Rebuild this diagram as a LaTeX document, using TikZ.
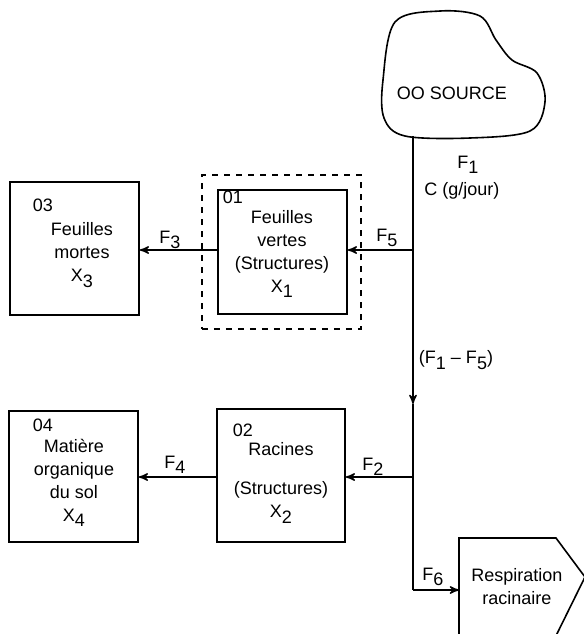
\documentclass[tikz,border=0pt]{standalone}
\usepackage{fontspec}
\setmainfont{Liberation Sans}
\usetikzlibrary{arrows,decorations.markings}

\newcommand{\sbs}[1]{\raisebox{-0.55ex}{\small #1}}

\tikzset{
  box/.style={draw, line width=0.8pt, rectangle, inner sep=0pt},
  txt/.style={align=center, font=\fontsize{9}{11.5}\selectfont},
  flow/.style={line width=0.7pt},
  flowarrow/.style={flow, -stealth'}
}

\begin{document}
\begin{tikzpicture}[x=0.5pt,y=-0.5pt]

\useasboundingbox (0,0) rectangle (584,634);
\clip (0,0) rectangle (584,634);

% source
\draw[line width=0.8pt] plot[smooth cycle, tension=0.55] coordinates {
  (383,80) (395,22) (440,11) (480,16) (496,40) (512,60) (537,73)
  (545,102) (530,131) (470,138) (405,136) (384,118)};
\node[txt] (src) at (452,93) {OO SOURCE};

% compartments
\node[box, dashed, minimum width=79.5pt, minimum height=77pt] (grp) at (281.5,252) {};
\node[box, minimum width=64.5pt, minimum height=62pt] (b01) at (282.5,252) {};
\node[box, minimum width=64.5pt, minimum height=66.5pt] (b03) at (74.5,248.5) {};
\node[box, minimum width=64pt, minimum height=66.5pt] (b02) at (281,475.5) {};
\node[box, minimum width=64.5pt, minimum height=65.5pt] (b04) at (73.5,476.5) {};

\node[txt] (n01) at (233,197) {01};
\node[txt] (n03) at (43,205) {03};
\node[txt] (n02) at (243,430) {02};
\node[txt] (n04) at (43,425) {04};

\node[txt] (t01) at (282,254) {Feuilles\\vertes\\(Structures)\\X\sbs{1}};
\node[txt] (t03) at (82,255) {Feuilles\\mortes\\X\sbs{3}};
\node[txt] (t02) at (281,483) {Racines\\[8pt](Structures)\\X\sbs{2}};
\node[txt] (t04) at (74,483) {Matière\\organique\\du sol\\X\sbs{4}};

% root respiration
\draw[line width=0.8pt] (459,650) -- (459,538) -- (556,538) -- (585,577) -- (549,650);
\node[txt] (resp) at (517,587) {Respiration\\racinaire};
\coordinate (rin) at (459,590);

% main flow line
\coordinate (top) at (413,136);
\coordinate (j5) at (413,250);
\coordinate (mid) at (413,404);
\coordinate (j2) at (413,477);
\coordinate (j6) at (413,590);

\draw[flowarrow] (top) -- (mid);
\draw[flow] (mid) -- (j2) -- (j6);
\draw[flowarrow] (j6) -- (rin);
\draw[flowarrow] (j5) -- (b01.east |- j5);
\draw[flowarrow] (b01.west |- j5) -- (b03.east |- j5);
\draw[flowarrow] (j2) -- (b02.east |- j2);
\draw[flowarrow] (b02.west |- j2) -- (b04.east |- j2);

% flow labels
\node[txt] (f1) at (468,165) {F\sbs{1}};
\node[txt] (c1) at (462,191) {C (g/jour)};
\node[txt] (f5) at (387,238) {F\sbs{5}};
\node[txt] (f3) at (170,240) {F\sbs{3}};
\node[txt] (f15) at (456,360) {(F\sbs{1} -- F\sbs{5})};
\node[txt] (f2) at (373,467) {F\sbs{2}};
\node[txt] (f4) at (175,465) {F\sbs{4}};
\node[txt] (f6) at (433,577) {F\sbs{6}};

\end{tikzpicture}
\end{document}
